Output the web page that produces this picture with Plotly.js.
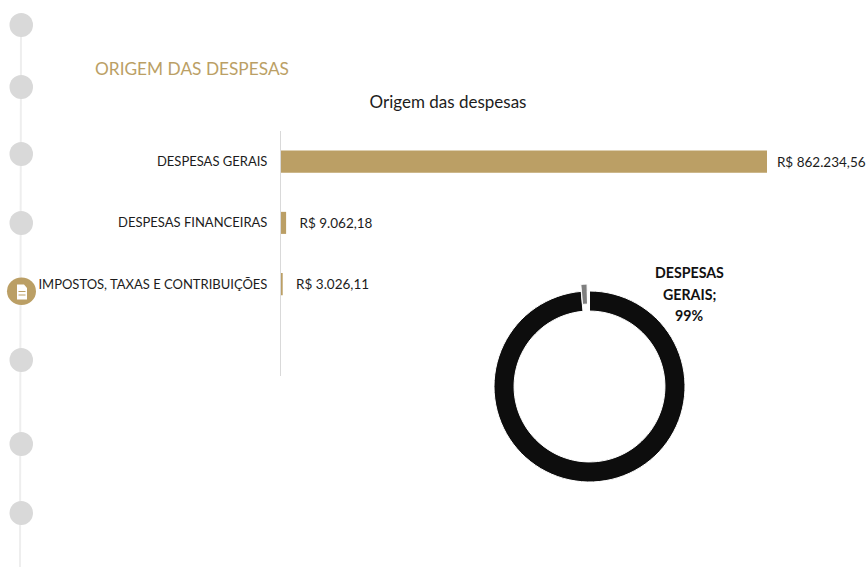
<!DOCTYPE html>
<html><head><meta charset="utf-8">
<script src="https://cdn.plot.ly/plotly-3.0.1.min.js"></script>
<style>html,body{margin:0;padding:0;background:#fff;overflow:hidden}</style>
</head><body><div id="chart" style="width:866px;height:567px"></div>
<script>
const W = 866, H = 567;
const categories = ["DESPESAS GERAIS", "DESPESAS FINANCEIRAS", "IMPOSTOS, TAXAS E CONTRIBUIÇÕES", " "];
const values = [862234.56, 9062.18, 3026.11, null];
const valueLabels = ["\u00a0\u00a0R$ 862.234,56", "\u00a0\u00a0\u00a0R$ 9.062,18", "\u00a0\u00a0\u00a0R$ 3.026,11", ""];
const pieLabels = ["DESPESAS GERAIS", "DESPESAS FINANCEIRAS", "IMPOSTOS, TAXAS E CONTRIBUIÇÕES"];
const pieColors = ["#0d0d0d", "#7f7f7f", "#ffffff"];
const piePull = [0, 0.073, 0];
const pieCallout = ["DESPESAS", "GERAIS;", "99%"];
const timelineY = [25, 87, 154, 223, 360, 444, 513];
const GOLD = "#bb9f65", FONT = "Lato, Carlito, sans-serif", INK = "#1c1c1c";
const px = v => v / W, py = v => 1 - v / H;

const bar = {
  type: "bar", orientation: "h", x: values, y: categories,
  marker: {color: GOLD}, width: 0.36, cliponaxis: false, constraintext: "none",
  text: valueLabels, textposition: "outside",
  textfont: {family: FONT, size: 13.5, color: INK},
  hoverinfo: "y+text"
};
const R = 95.5, cx = 589.5, cy = 386.5, box = R * (1 + Math.max(...piePull));
const pie = {
  type: "pie", hole: 0.79, sort: false, direction: "clockwise", rotation: 0,
  labels: pieLabels, values: values.slice(0, 3), pull: piePull,
  marker: {colors: pieColors, line: {color: "#fff", width: 1}},
  textinfo: "none", showlegend: false,
  domain: {x: [px(cx - box), px(cx + box)], y: [py(cy + box), py(cy - box)]}
};
const paper = {xref: "paper", yref: "paper"};
const shapes = [{type: "line", ...paper,
  x0: px(21), x1: px(20), y0: py(25), y1: py(567),
  line: {color: "#eeeeee", width: 2}, layer: "below"}];
timelineY.forEach(y => shapes.push({type: "circle", ...paper,
  x0: px(9.5), x1: px(33), y0: py(y - 12), y1: py(y + 12),
  fillcolor: "#d9d9d9", line: {width: 0}, layer: "below"}));
shapes.push({type: "circle", ...paper,
  x0: px(7), x1: px(36), y0: py(277.5), y1: py(305),
  fillcolor: GOLD, line: {width: 0}, layer: "below"});
// document glyph inside the gold timeline marker
const glyph = [[17, 284.5], [24, 284.5], [27, 288], [27, 299.5], [17, 299.5]];
shapes.push({type: "path", ...paper,
  path: "M" + glyph.map(p => px(p[0]) + "," + py(p[1])).join(" L") + " Z",
  fillcolor: "#ffffff", line: {width: 0}});
[291.5, 295].forEach(y => shapes.push({type: "line", ...paper,
  x0: px(18.5), x1: px(25.5), y0: py(y), y1: py(y),
  line: {color: GOLD, width: 1}}));

const annotations = [
  {text: "ORIGEM DAS DESPESAS", ...paper, x: px(93), y: py(68),
   xanchor: "left", yanchor: "middle", showarrow: false,
   font: {family: FONT, size: 17.3, color: GOLD}}
];
pieCallout.forEach((t, i) => annotations.push({text: "<b>" + t + "</b>", ...paper,
  x: px(689), y: py(273 + i * 21), xanchor: "center", yanchor: "middle", showarrow: false,
  font: {family: FONT, size: 14.2, color: "#111"}}));

const layout = {
  width: W, height: H, autosize: false, showlegend: false,
  paper_bgcolor: "#fff", plot_bgcolor: "rgba(0,0,0,0)",
  margin: {l: 0, r: 0, t: 0, b: 0, pad: 0},
  font: {family: FONT, color: INK},
  title: {text: "Origem das despesas", font: {family: FONT, size: 17, color: INK},
    x: 448 / W, xanchor: "center", y: 1 - 102 / H, yanchor: "middle"},
  xaxis: {visible: false, domain: [px(281), px(767)], range: [0, 862234.56], fixedrange: true},
  yaxis: {autorange: false, domain: [py(376), py(131)], range: [3.5, -0.5], type: "category",
    categoryorder: "array", categoryarray: categories, showline: true,
    linecolor: "#d9d9d9", linewidth: 1, showgrid: false, ticks: "", ticklen: 0,
    tickfont: {family: FONT, size: 13, color: INK}, automargin: false, fixedrange: true,
    ticksuffix: "   "},
  shapes, annotations
};
Plotly.newPlot("chart", [bar, pie], layout, {displayModeBar: false, staticPlot: true});
</script></body></html>
